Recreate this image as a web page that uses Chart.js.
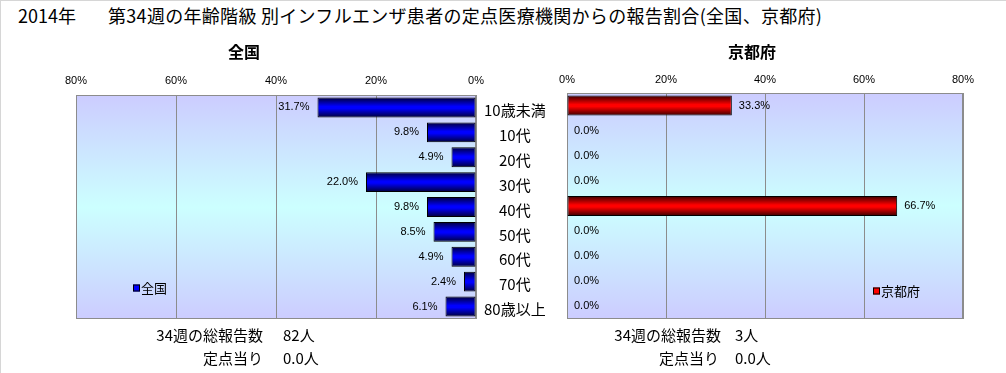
<!DOCTYPE html>
<html>
<head>
<meta charset="utf-8">
<script src="https://cdn.jsdelivr.net/npm/chart.js@4.4.1/dist/chart.umd.min.js"></script>
<style>
    body { margin: 0; background: #fff; }
    #wrap { position: relative; width: 1006px; height: 373px; box-sizing: border-box; border-top: 1px solid #d6d6d6; border-left: 1px solid #d6d6d6; font-family: "Noto Sans CJK JP", sans-serif; color: #000; }
    canvas { position: absolute; top: 0; }
    .txt { position: absolute; white-space: pre; line-height: 20px; }
</style>
</head>
<body>
<div id="wrap">
    <div class="txt" style="left:17px;top:4px;font-size:18px;">2014年</div>
    <div class="txt" style="left:107px;top:4px;font-size:18px;letter-spacing:0.3px;">第34週の年齢階級 別インフルエンザ患者の定点医療機関からの報告割合(全国、京都府)</div>
    <canvas id="leftChart" width="566" height="373" style="left:-1px;top:-1px"></canvas>
    <canvas id="rightChart" width="507" height="373" style="left:499px;top:-1px"></canvas>
    <div class="txt" style="right:743px;top:324px;font-size:15px;">34週の総報告数</div>
    <div class="txt" style="left:282px;top:324px;font-size:15px;">82人</div>
    <div class="txt" style="right:743px;top:347px;font-size:15px;">定点当り</div>
    <div class="txt" style="left:282px;top:347px;font-size:15px;">0.0人</div>
    <div class="txt" style="right:285px;top:324px;font-size:15px;">34週の総報告数</div>
    <div class="txt" style="left:734px;top:324px;font-size:15px;">3人</div>
    <div class="txt" style="right:287px;top:347px;font-size:15px;">定点当り</div>
    <div class="txt" style="left:734px;top:347px;font-size:15px;">0.0人</div>
</div>
<script>
// data
var categories = ['10歳未満', '10代', '20代', '30代', '40代', '50代', '60代', '70代', '80歳以上'];
var zenkokuValues = [31.7, 9.8, 4.9, 22.0, 9.8, 8.5, 4.9, 2.4, 6.1];
var kyotoValues = [33.3, 0.0, 0.0, 0.0, 66.7, 0.0, 0.0, 0.0, 0.0];
var tickValues = [0, 20, 40, 60, 80];
var panelTitles = ['全国', '京都府'];

var numFont = '11px "Liberation Sans", sans-serif';
var cjkFont = '"Noto Sans CJK JP", sans-serif';

// plot area background + frame
var plotBackground = {
    id: 'plotBackground',
    beforeDraw: function (chart) {
        var a = chart.chartArea;
        var ctx = chart.ctx;
        var g = ctx.createLinearGradient(0, a.top, 0, a.bottom);
        g.addColorStop(0, '#ccccff');
        g.addColorStop(0.5, '#ccffff');
        g.addColorStop(1, '#ccccff');
        ctx.save();
        ctx.fillStyle = g;
        ctx.fillRect(a.left, a.top, a.right - a.left, a.bottom - a.top);
        ctx.restore();
    },
    beforeDatasetsDraw: function (chart) {
        var a = chart.chartArea;
        var ctx = chart.ctx;
        ctx.save();
        ctx.strokeStyle = '#8c8c8c';
        ctx.lineWidth = 1;
        ctx.strokeRect(Math.round(a.left) + 0.5, Math.round(a.top) + 0.5, Math.round(a.right - a.left) - 1, Math.round(a.bottom - a.top) - 1);
        ctx.restore();
    }
};

// value labels next to the bars
var valueLabels = {
    id: 'valueLabels',
    afterDatasetsDraw: function (chart, args, opts) {
        var ctx = chart.ctx;
        var meta = chart.getDatasetMeta(0);
        var values = chart.data.datasets[0].data;
        ctx.save();
        ctx.font = numFont;
        ctx.fillStyle = '#000';
        ctx.textBaseline = 'middle';
        ctx.textAlign = opts.side == 'left' ? 'right' : 'left';
        for (var i = 0; i < meta.data.length; i++) {
            var bar = meta.data[i];
            var x = opts.side == 'left' ? bar.x - 8 : bar.x + 7;
            ctx.fillText(values[i].toFixed(1) + '%', x, bar.y);
        }
        ctx.restore();
    }
};

// panel title and small legend
var panelText = {
    id: 'panelText',
    afterDraw: function (chart, args, opts) {
        var ctx = chart.ctx;
        ctx.save();
        ctx.fillStyle = '#000';
        ctx.textBaseline = 'middle';
        ctx.textAlign = 'center';
        ctx.font = 'bold 16px ' + cjkFont;
        ctx.fillText(opts.title, opts.titleX, 52);
        ctx.fillStyle = opts.color;
        ctx.fillRect(opts.legendX, opts.legendY - 3.5, 7, 7);
        ctx.strokeStyle = '#000';
        ctx.lineWidth = 1;
        ctx.strokeRect(opts.legendX + 0.5, opts.legendY - 3, 6, 6);
        ctx.fillStyle = '#000';
        ctx.textAlign = 'left';
        ctx.font = '13px ' + cjkFont;
        ctx.fillText(opts.title, opts.legendX + 8, opts.legendY);
        ctx.restore();
    }
};

function barGradient(dark, bright) {
    return function (context) {
        var chart = context.chart;
        if (!chart.chartArea || !chart.scales.y) {
            return bright;
        }
        var y = chart.scales.y.getPixelForValue(context.dataIndex);
        var half = chart.scales.y.getPixelForValue(1) - chart.scales.y.getPixelForValue(0);
        half = half * 0.4;
        var g = chart.ctx.createLinearGradient(0, y - half, 0, y + half);
        g.addColorStop(0, dark);
        g.addColorStop(0.45, bright);
        g.addColorStop(0.55, bright);
        g.addColorStop(1, dark);
        return g;
    };
}

function makeChart(canvasId, values, side) {
    var isLeft = side == 'left';
    var ctx = document.getElementById(canvasId).getContext('2d');
    var yAxis = {
        display: isLeft,
        position: 'right',
        grid: { display: false },
        border: { display: false },
        ticks: {
            crossAlign: 'center',
            padding: 0,
            labelOffset: 3,
            color: '#000',
            font: { family: cjkFont, size: 15 }
        }
    };
    if (isLeft) {
        yAxis.afterFit = function (scale) { scale.width = 90; };
    }
    return new Chart(ctx, {
        type: 'bar',
        plugins: [plotBackground, valueLabels, panelText],
        data: {
            labels: categories,
            datasets: [{
                label: isLeft ? panelTitles[0] : panelTitles[1],
                data: values,
                backgroundColor: isLeft ? barGradient('#000038', '#0000ff') : barGradient('#380000', '#ff0000'),
                borderColor: '#000',
                borderWidth: 1,
                borderSkipped: false,
                barPercentage: 0.8,
                categoryPercentage: 1.0
            }]
        },
        options: {
            indexAxis: 'y',
            responsive: false,
            animation: false,
            events: [],
            layout: {
                padding: isLeft ? { left: 76, top: 69, right: 0, bottom: 54 } : { left: 67, top: 67, right: 44, bottom: 54 }
            },
            scales: {
                x: {
                    position: 'top',
                    reverse: isLeft,
                    min: tickValues[0],
                    max: tickValues[tickValues.length - 1],
                    afterBuildTicks: function (scale) {
                        scale.ticks = tickValues.map(function (v) { return { value: v }; });
                    },
                    afterFit: function (scale) { scale.height = 26; },
                    grid: { color: '#8c8c8c', drawTicks: false },
                    border: { display: false },
                    ticks: {
                        padding: isLeft ? 7 : 6,
                        maxRotation: 0,
                        color: '#000',
                        font: { family: '"Liberation Sans", sans-serif', size: 11 },
                        callback: function (v) { return v + '%'; }
                    }
                },
                y: yAxis
            },
            plugins: {
                legend: { display: false },
                tooltip: { enabled: false },
                title: { display: false },
                valueLabels: { side: side },
                panelText: isLeft
                    ? { title: panelTitles[0], titleX: 244, legendX: 133, legendY: 288, color: '#0000ff' }
                    : { title: panelTitles[1], titleX: 252, legendX: 373, legendY: 291, color: '#ff0000' }
            }
        }
    });
}

makeChart('leftChart', zenkokuValues, 'left');
makeChart('rightChart', kyotoValues, 'right');
</script>
</body>
</html>
